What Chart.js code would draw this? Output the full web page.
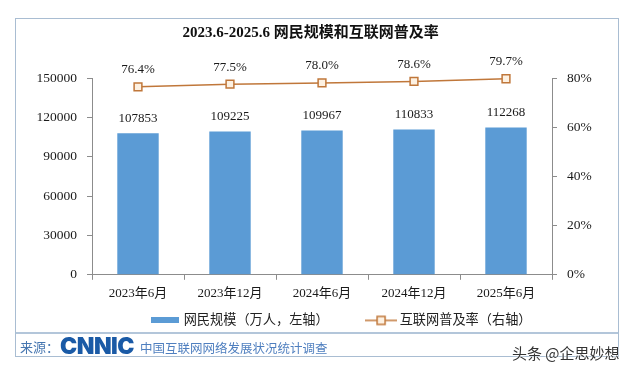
<!DOCTYPE html>
<html>
<head>
<meta charset="utf-8">
<script src="https://cdn.jsdelivr.net/npm/chart.js@4.4.1/dist/chart.umd.min.js"></script>
<style>
  body { margin: 0; background: #fff; }
  #wrap { position: relative; width: 640px; height: 370px; overflow: hidden; }
  #chart { position: absolute; left: 0; top: 0; }
  #frame { position: absolute; left: 15px; top: 18px; width: 602px; height: 337px; border: 1px solid #a9bdd2; pointer-events: none; }
  #sep { position: absolute; left: 16px; top: 332px; width: 602px; height: 0; border-top: 2px solid #b3c6da; }
  .foot { position: absolute; white-space: nowrap; }
</style>
</head>
<body>
<div id="wrap">
  <canvas id="chart" width="640" height="337"></canvas>
  <div id="frame"></div>
  <div id="sep"></div>
  <div class="foot" style="left:20px;top:337px;font:13px 'Noto Sans CJK SC';color:#4676b0;">来源：</div>
  <div class="foot" style="left:60px;top:332px;font:900 23px Inter;color:#1a5aa6;letter-spacing:-0.5px;">CNNIC</div>
  <div class="foot" style="left:140px;top:338px;font:12.5px 'Noto Sans CJK SC';color:#4f7fbf;">中国互联网网络发展状况统计调查</div>
  <div class="foot" style="left:512px;top:342px;font:15px 'Noto Sans CJK SC';color:#333;text-shadow:0 0 2px #fff,0 0 2px #fff;">头条 @企思妙想</div>
</div>
<script>
const categories = ['2023年6月', '2023年12月', '2024年6月', '2024年12月', '2025年6月'];
const netizens = [107853, 109225, 109967, 110833, 112268];
const penetration = [76.4, 77.5, 78.0, 78.6, 79.7];
const leftTicks = [0, 30000, 60000, 90000, 120000, 150000];
const rightTicks = [0, 20, 40, 60, 80];

const serif = '"Liberation Serif", "Noto Sans CJK SC", serif';
const blue = '#5b9bd5';
const orange = '#c0773a';

// little legend icons
function barIcon() {
  const c = document.createElement('canvas');
  c.width = 28; c.height = 6;
  const g = c.getContext('2d');
  g.fillStyle = blue;
  g.fillRect(0, 0, 28, 6);
  return c;
}
function lineIcon() {
  const c = document.createElement('canvas');
  c.width = 32; c.height = 12;
  const g = c.getContext('2d');
  g.strokeStyle = orange; g.lineWidth = 1.5;
  g.beginPath(); g.moveTo(0, 6); g.lineTo(32, 6); g.stroke();
  g.fillStyle = '#fdf1e2';
  g.fillRect(12, 2, 8, 8);
  g.strokeRect(12, 2, 8, 8);
  return c;
}
function blankIcon() {
  const c = document.createElement('canvas');
  c.width = 1; c.height = 1;
  return c;
}

const valueLabels = {
  id: 'valueLabels',
  afterDatasetsDraw(chart) {
    const ctx = chart.ctx;
    ctx.save();
    ctx.font = '13px ' + serif;
    ctx.fillStyle = '#1a1a1a';
    ctx.textAlign = 'center';
    ctx.textBaseline = 'middle';
    chart.getDatasetMeta(0).data.forEach((bar, i) => {
      ctx.fillText(String(netizens[i]), bar.x, bar.y - 15);
    });
    chart.getDatasetMeta(1).data.forEach((pt, i) => {
      ctx.fillText(penetration[i].toFixed(1) + '%', pt.x, pt.y - 17);
    });
    ctx.restore();
  }
};

new Chart(document.getElementById('chart').getContext('2d'), {
  type: 'bar',
  data: {
    labels: categories,
    datasets: [
      {
        label: '网民规模（万人，左轴）',
        data: netizens,
        yAxisID: 'y',
        backgroundColor: blue,
        barPercentage: 0.45,
        categoryPercentage: 1,
        order: 2
      },
      {
        type: 'line',
        label: '互联网普及率（右轴）',
        data: penetration,
        yAxisID: 'y1',
        borderColor: orange,
        borderWidth: 1.5,
        pointStyle: 'rect',
        pointRadius: 5.5,
        pointBackgroundColor: '#fdf1e2',
        pointBorderColor: orange,
        pointBorderWidth: 1.5,
        clip: false,
        order: 1
      }
    ]
  },
  options: {
    responsive: false,
    animation: false,
    layout: { padding: 0 },
    plugins: {
      title: {
        display: true,
        text: '2023.6-2025.6 网民规模和互联网普及率\u3000 ',
        font: { family: serif, size: 15, weight: 'bold' },
        color: '#111',
        padding: { top: 24, bottom: 36 }
      },
      legend: {
        position: 'bottom',
        labels: {
          usePointStyle: true,
          pointStyleWidth: 24,
          padding: 14,
          font: { family: serif, size: 13.2 },
          color: '#222',
          generateLabels: () => [
            { text: '', pointStyle: blankIcon(), lineWidth: 0, fontColor: '#222' },
            { text: '网民规模（万人，左轴）\u3000\u3000  ', pointStyle: barIcon(), datasetIndex: 0, lineWidth: 0, fontColor: '#222' },
            { text: '互联网普及率（右轴）', pointStyle: lineIcon(), datasetIndex: 1, lineWidth: 0, fontColor: '#222' }
          ]
        }
      },
      tooltip: { enabled: false }
    },
    scales: {
      x: {
        grid: { display: true, drawOnChartArea: false, tickLength: 5, color: '#8c8c8c', offset: true },
        border: { color: '#8c8c8c' },
        ticks: { font: { family: serif, size: 13 }, color: '#1a1a1a', padding: 6 },
        afterFit: s => { s.height = 25; }
      },
      y: {
        position: 'left',
        min: 0, max: 150000,
        afterBuildTicks: s => { s.ticks = leftTicks.map(v => ({ value: v })); },
        grid: { drawOnChartArea: false, tickLength: 5, color: '#8c8c8c' },
        border: { color: '#8c8c8c' },
        ticks: { font: { family: serif, size: 13.5 }, color: '#1a1a1a', padding: 10, callback: v => String(v) },
        afterFit: s => { s.width = 92; }
      },
      y1: {
        position: 'right',
        min: 0, max: 80,
        afterBuildTicks: s => { s.ticks = rightTicks.map(v => ({ value: v })); },
        grid: { drawOnChartArea: false, tickLength: 5, color: '#8c8c8c' },
        border: { color: '#8c8c8c' },
        ticks: { font: { family: serif, size: 13.5 }, color: '#1a1a1a', padding: 10, callback: v => v + '%' },
        afterFit: s => { s.width = 88; }
      }
    }
  },
  plugins: [valueLabels]
});
</script>
</body>
</html>
